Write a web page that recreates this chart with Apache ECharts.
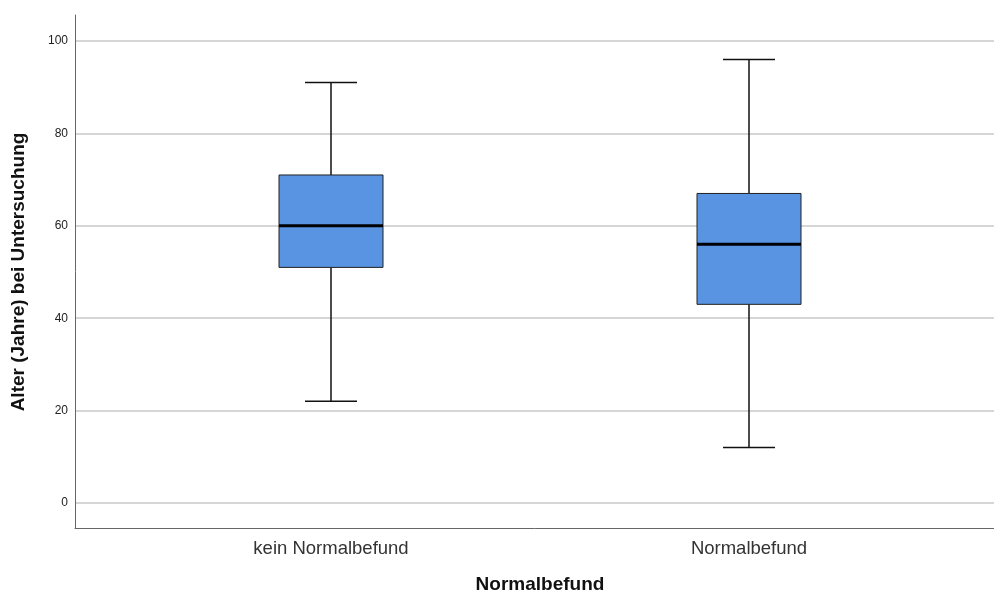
<!DOCTYPE html>
<html><head><meta charset="utf-8">
<script src="https://cdn.jsdelivr.net/npm/echarts@6/dist/echarts.min.js"></script>
<style>html,body{margin:0;padding:0;background:#fff}#c{width:994px;height:594px}</style>
</head><body><div id="c"></div>
<script>
const categories = ["kein Normalbefund", "Normalbefund"];
const whiskerLow = [22, 12];
const q1 = [51, 43];
const median = [60, 56];
const q3 = [71, 67];
const whiskerHigh = [91, 96];
const yTicks = [0, 20, 40, 60, 80, 100];

const data = categories.map((c, i) => [i, whiskerLow[i], q1[i], median[i], q3[i], whiskerHigh[i]]);

const chart = echarts.init(document.getElementById('c'));
const font = 'Liberation Sans, Arial, sans-serif';
chart.setOption({
  animation: false,
  grid: [
    {left: 75, right: 0, top: 41, bottom: 91, outerBoundsMode: 'none', containLabel: false},
    {left: 122, right: 36, top: 41, bottom: 91, outerBoundsMode: 'none', containLabel: false},
    {left: 75, right: 0, top: 15, bottom: 66, outerBoundsMode: 'none', containLabel: false}
  ],
  xAxis: [
    {gridIndex: 0, type: 'value', show: false},
    {gridIndex: 1, type: 'category', data: categories,
     axisLine: {show: false}, axisTick: {show: false},
     axisLabel: {margin: 36, fontFamily: font, fontSize: 18.5, color: '#333'},
     name: 'Normalbefund', nameLocation: 'middle', nameGap: 72,
     nameTextStyle: {fontFamily: font, fontSize: 19, fontWeight: 'bold', color: '#111'}},
    {gridIndex: 2, type: 'value', min: 0, max: 1,
     axisLine: {show: true, lineStyle: {color: '#666', width: 1}},
     axisTick: {show: false}, axisLabel: {show: false}, splitLine: {show: false}}
  ],
  yAxis: [
    {gridIndex: 0, type: 'value', min: 0, max: 100, interval: 20,
     axisLine: {show: false}, axisTick: {show: false},
     axisLabel: {margin: 7, fontFamily: font, fontSize: 12, color: '#222'},
     splitLine: {show: true, lineStyle: {color: '#c8c8c8', width: 1.5}},
     name: 'Alter (Jahre) bei Untersuchung', nameLocation: 'middle', nameGap: 47,
     nameTextStyle: {fontFamily: font, fontSize: 19, fontWeight: 'bold', color: '#111'}},
    {gridIndex: 1, type: 'value', min: 0, max: 100, interval: 20, show: false},
    {gridIndex: 2, type: 'value', min: 0, max: 1,
     axisLine: {show: true, lineStyle: {color: '#666', width: 1}},
     axisTick: {show: false}, axisLabel: {show: false}, splitLine: {show: false}}
  ],
  series: [{
    type: 'custom',
    xAxisIndex: 1, yAxisIndex: 1,
    data: data,
    renderItem: function (params, api) {
      const x = api.value(0);
      const lo = api.coord([x, api.value(1)]);
      const b1 = api.coord([x, api.value(2)]);
      const md = api.coord([x, api.value(3)]);
      const b3 = api.coord([x, api.value(4)]);
      const hi = api.coord([x, api.value(5)]);
      const cx = lo[0];
      const hw = 52, cw = 26;
      const ls = {stroke: '#111', lineWidth: 1.5};
      return {type: 'group', children: [
        {type: 'line', shape: {x1: cx, y1: hi[1], x2: cx, y2: b3[1]}, style: ls},
        {type: 'line', shape: {x1: cx, y1: b1[1], x2: cx, y2: lo[1]}, style: ls},
        {type: 'line', shape: {x1: cx - cw, y1: hi[1], x2: cx + cw, y2: hi[1]}, style: ls},
        {type: 'line', shape: {x1: cx - cw, y1: lo[1], x2: cx + cw, y2: lo[1]}, style: ls},
        {type: 'rect', shape: {x: cx - hw, y: b3[1], width: 2 * hw, height: b1[1] - b3[1]},
         style: {fill: '#5894e2', stroke: '#222', lineWidth: 1}},
        {type: 'line', shape: {x1: cx - hw, y1: md[1], x2: cx + hw, y2: md[1]},
         style: {stroke: '#000', lineWidth: 3}}
      ]};
    }
  }]
});
</script></body></html>
